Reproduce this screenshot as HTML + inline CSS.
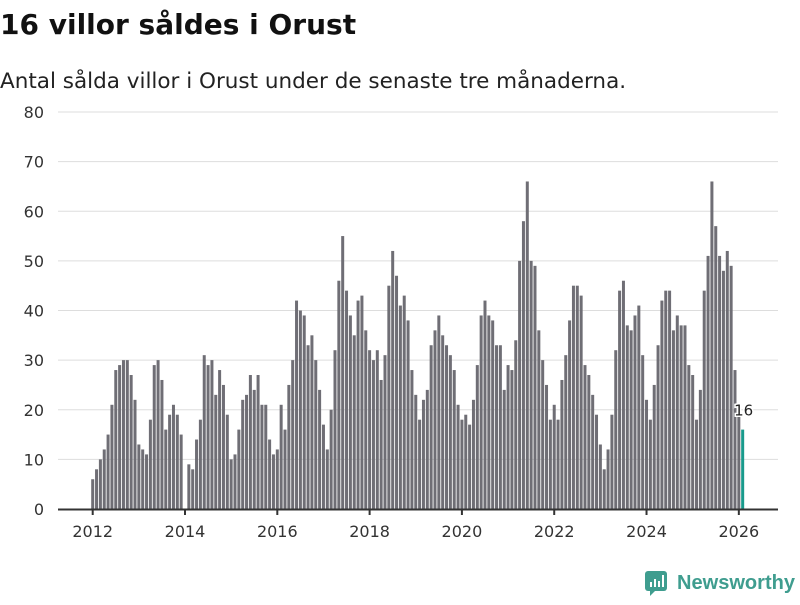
<!DOCTYPE html>
<html><head><meta charset="utf-8">
<style>
body{margin:0;background:#fff;width:800px;height:600px;overflow:hidden;font-family:"Liberation Sans","DejaVu Sans",sans-serif;}
svg text{font-family:"DejaVu Sans","Liberation Sans",sans-serif;}
</style></head>
<body>
<svg width="800" height="600" viewBox="0 0 800 600">
<text x="0" y="34" font-size="28" font-weight="bold" fill="#111">16 villor såldes i Orust</text>
<text x="0" y="88" font-size="21.5" fill="#222">Antal sålda villor i Orust under de senaste tre månaderna.</text>
<g id="grid"></g>
<g id="bars"></g>
<g id="xaxis"></g>
<g>
<rect x="645" y="571" width="22" height="20" rx="3" fill="#3f9d8f"/>
<polygon points="650,590 656,590 650,596" fill="#3f9d8f"/>
<rect x="650" y="582" width="2" height="5" fill="#fff"/><rect x="654" y="579" width="2" height="8" fill="#fff"/><rect x="658" y="581" width="2" height="6" fill="#fff"/><rect x="662" y="575" width="2" height="12" fill="#fff"/>
<text x="677" y="589" font-size="20" font-weight="bold" fill="#3f9d8f" style="font-family:'Liberation Sans',sans-serif" textLength="118" lengthAdjust="spacingAndGlyphs">Newsworthy</text>
</g>
</svg>
<script>
const values2012 = [6,8,10,12,15,21,28,29,30,30,27,22];
const values2013 = [13,12,11,18,29,30,26,16,19,21,19,15];
const values2014 = [0,9,8,14,18,31,29,30,23,28,25,19];
const values2015 = [10,11,16,22,23,27,24,27,21,21,14,11];
const values2016 = [12,21,16,25,30,42,40,39,33,35,30,24];
const values2017 = [17,12,20,32,46,55,44,39,35,42,43,36];
const values2018 = [32,30,32,26,31,45,52,47,41,43,38,28];
const values2019 = [23,18,22,24,33,36,39,35,33,31,28,21];
const values2020 = [18,19,17,22,29,39,42,39,38,33,33,24];
const values2021 = [29,28,34,50,58,66,50,49,36,30,25,18];
const values2022 = [21,18,26,31,38,45,45,43,29,27,23,19];
const values2023 = [13,8,12,19,32,44,46,37,36,39,41,31];
const values2024 = [22,18,25,33,42,44,44,36,39,37,37,29];
const values2025 = [27,18,24,44,51,66,57,51,48,52,49,28];
const values2026 = [19,16];
const yTicks = [0,10,20,30,40,50,60,70,80];
const xTickYears = [2012,2014,2016,2018,2020,2022,2024,2026];

const values = [].concat(values2012,values2013,values2014,values2015,values2016,values2017,values2018,values2019,values2020,values2021,values2022,values2023,values2024,values2025,values2026);
const NS='http://www.w3.org/2000/svg';
const x0=92.7, monthW=3.846, yBase=509, yTop=112;
function xScale(i){return x0+i*monthW;}
function yScale(v){return yBase-(v/80)*(yBase-yTop);}
function mk(tag,attrs,parent){const e=document.createElementNS(NS,tag);for(const k in attrs)e.setAttribute(k,attrs[k]);parent.appendChild(e);return e;}
const grid=document.getElementById('grid');
yTicks.forEach(t=>{
  if(t>0){const l=mk('line',{x1:58,x2:778,y1:yScale(t),y2:yScale(t),stroke:'#dddddd','stroke-width':1},grid);
  
  }
  const tx=mk('text',{x:44,y:yScale(t)+6,'text-anchor':'end','font-size':16,fill:'#333'},grid);
  tx.textContent=t;
  
  
});
const bars=document.getElementById('bars');
values.forEach((v,i)=>{
  const last=i===values.length-1;
  const r=mk('rect',{x:xScale(i)-1.5,y:yScale(v),width:3,height:yBase-yScale(v),fill:last?'#199a8c':'#6f6e75'},bars);
  
  
  if(last){
    const t=mk('text',{x:xScale(i)+1,y:yScale(v)-14,'text-anchor':'middle','font-size':15,fill:'#222',stroke:'#fff','stroke-width':3,'paint-order':'stroke'},bars);
    t.textContent=v;
    
    
  }
});
const xa=document.getElementById('xaxis');
const ax=mk('line',{x1:58,x2:778,y1:yBase+0.5,y2:yBase+0.5,stroke:'#333','stroke-width':2},xa);


xTickYears.forEach(y=>{
  const xi=xScale((y-2012)*12);
  mk('line',{x1:xi,x2:xi,y1:yBase,y2:yBase+6,stroke:'#333','stroke-width':2},xa);
  const t=mk('text',{x:xi,y:537,'text-anchor':'middle','font-size':16,fill:'#333'},xa);
  t.textContent=y;
  
  
});
</script>
</body></html>
